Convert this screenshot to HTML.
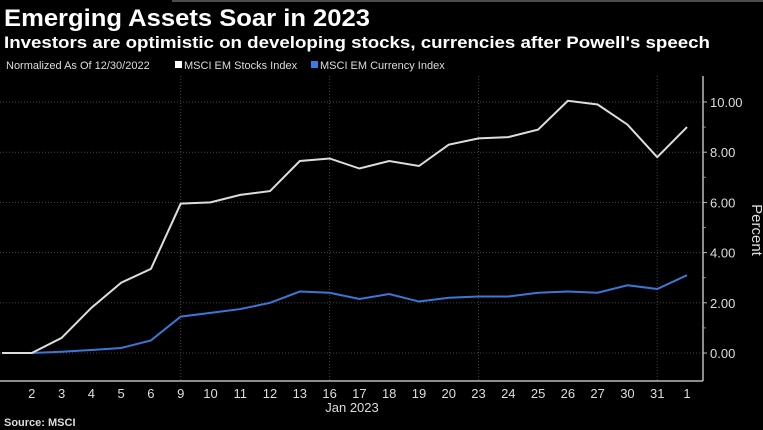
<!DOCTYPE html>
<html><head><meta charset="utf-8"><style>
body{margin:0;background:#000;width:763px;height:430px;overflow:hidden;font-family:"Liberation Sans",sans-serif;color:#fff}
</style></head><body>
<svg width="763" height="430" style="position:absolute;left:0;top:0">
<line x1="172" y1="1" x2="763" y2="1" stroke="#666" stroke-width="1.5"/>
<text x="4" y="26" font-size="24" font-weight="bold" fill="#fff" textLength="366" lengthAdjust="spacingAndGlyphs">Emerging Assets Soar in 2023</text>
<text x="4" y="48" font-size="17" font-weight="bold" fill="#fff" textLength="706" lengthAdjust="spacingAndGlyphs">Investors are optimistic on developing stocks, currencies after Powell's speech</text>
<text x="6" y="69" font-size="11" fill="#ddd">Normalized As Of 12/30/2022</text>
<rect x="175" y="61" width="7" height="7" fill="#fff"/>
<text x="184" y="69" font-size="11" fill="#ddd">MSCI EM Stocks Index</text>
<rect x="311" y="61" width="7" height="7" fill="#3a7de0"/>
<text x="320" y="69" font-size="11" fill="#ddd">MSCI EM Currency Index</text>
<g id="plot"></g>
<text transform="translate(752,230) rotate(90)" font-size="15" fill="#ddd" text-anchor="middle">Percent</text>
<text x="352" y="412" font-size="13" fill="#ddd" text-anchor="middle">Jan 2023</text>
<text x="4" y="426" font-size="11" font-weight="bold" fill="#ddd">Source: MSCI</text>
</svg>
<script>
const categories=["","2","3","4","5","6","9","10","11","12","13","16","17","18","19","20","23","24","25","26","27","30","31","1"];
const stocks=[0,0,0.6,1.8,2.8,3.35,5.95,6.0,6.3,6.45,7.65,7.75,7.35,7.65,7.45,8.3,8.55,8.6,8.9,10.05,9.9,9.1,7.8,9.0];
const currency=[0,0,0.05,0.12,0.2,0.5,1.45,1.6,1.75,2.0,2.45,2.4,2.15,2.35,2.05,2.2,2.25,2.25,2.4,2.45,2.4,2.7,2.55,3.1];
const yTicks=[0,2,4,6,8,10];
const vGridIdx=[6,11,16,22];
const ns="http://www.w3.org/2000/svg";
const g=document.getElementById('plot');
const x=i=>2+i*(685/(categories.length-1));
const y=v=>353-v*25.1;
function mk(t,a){const e=document.createElementNS(ns,t);for(const k in a)e.setAttribute(k,a[k]);g.appendChild(e);return e;}
yTicks.forEach(v=>{
 const l=mk('line',{x1:0,x2:703,y1:y(v),y2:y(v),stroke:'#444','stroke-dasharray':'1,2'});
 
 
 const t=mk('text',{x:710,y:y(v)+5,'font-size':13,fill:'#ddd'});
 t.textContent=v.toFixed(2);
 
 
 const tk=mk('line',{x1:703,x2:707,y1:y(v),y2:y(v),stroke:'#bbb'});
 
 
});
[1,3,5,7,9].forEach(v=>{
 const tk=mk('line',{x1:703,x2:706,y1:y(v),y2:y(v),stroke:'#888'});
 
 
});
vGridIdx.forEach(i=>{
 const l=mk('line',{x1:x(i),x2:x(i),y1:76,y2:381,stroke:'#444','stroke-dasharray':'1,2'});
 
 
});
const ax=mk('line',{x1:703,x2:703,y1:76,y2:381,stroke:'#bbb','stroke-width':1.5});


const xa=mk('line',{x1:0,x2:703,y1:381,y2:381,stroke:'#bbb','stroke-width':1.5});


categories.forEach((c,i)=>{
 if(!c)return;
 const t=mk('text',{x:x(i),y:398,'font-size':13,fill:'#ddd','text-anchor':'middle'});
 t.textContent=c;
 
 
});
const p2=mk('polyline',{points:currency.map((v,i)=>x(i)+','+y(v)).join(' '),fill:'none',stroke:'#3a78d8','stroke-width':2});


const p1=mk('polyline',{points:stocks.map((v,i)=>x(i)+','+y(v)).join(' '),fill:'none',stroke:'#ddd','stroke-width':2});


</script>
</body></html>
